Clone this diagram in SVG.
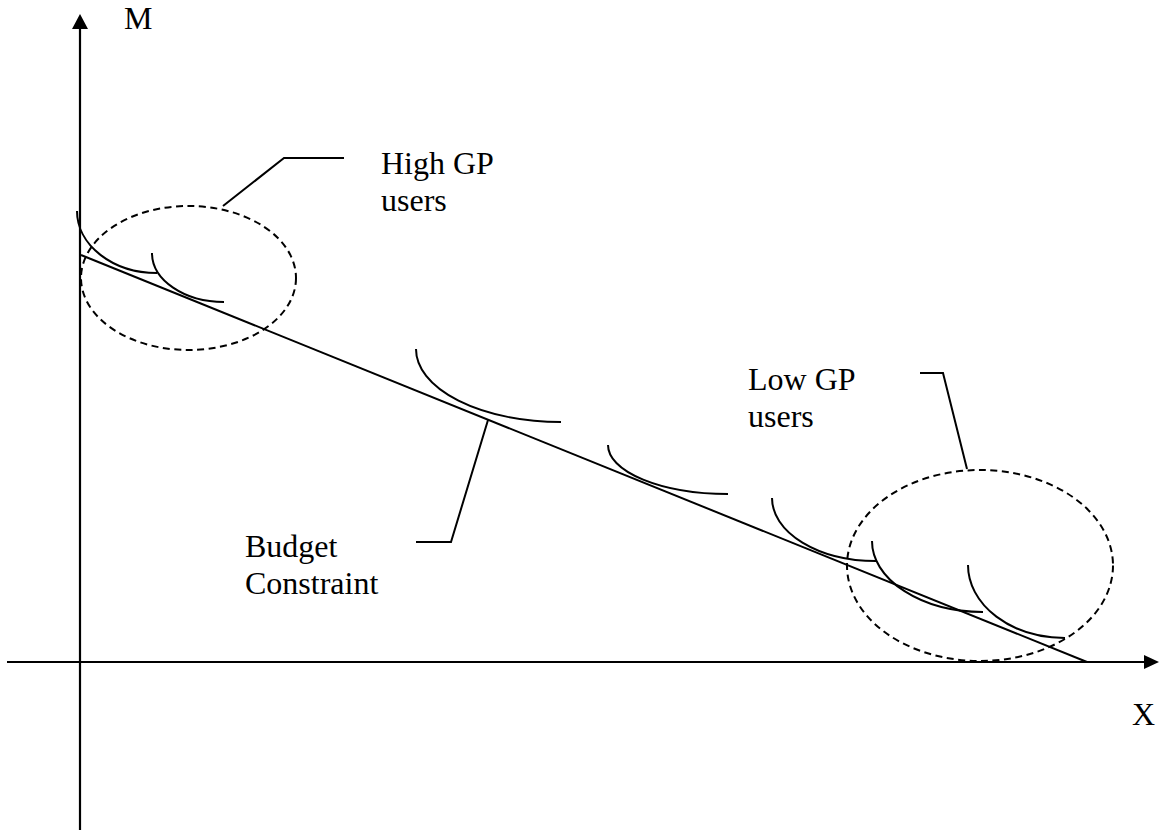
<svg xmlns="http://www.w3.org/2000/svg" width="1159" height="830" viewBox="0 0 1159 830">
<style>
.ax{stroke:#000;stroke-width:2.2;fill:none}
.ln{stroke:#000;stroke-width:2;fill:none}
.ds{stroke:#000;stroke-width:2;fill:none;stroke-dasharray:7 4.5}
.tx{font-family:"Liberation Serif","Times New Roman",serif;font-size:32px;fill:#000}
</style>
<rect width="1159" height="830" fill="#fff"/>
<g id="axes">
<line class="ax" x1="80" y1="28" x2="80" y2="830"/>
<polygon points="80,14 72,29 88,29" fill="#000"/>
<line class="ax" x1="7" y1="662" x2="1146" y2="662"/>
<polygon points="1159,662 1144,655 1144,669" fill="#000"/>
<text class="tx" x="124" y="29" font-family="Liberation Serif, serif">M</text>
<text class="tx" x="1132" y="725" font-family="Liberation Serif, serif">X</text>
</g>
<g id="budget-line">
<line class="ln" x1="81" y1="255" x2="1087" y2="662"/>
</g>
<g id="indifference-curves">
<path class="ln" d="M77,211 A80,62 0 0 0 157,273"/>
<path class="ln" d="M152,253 A72,49 0 0 0 224,302"/>
<path class="ln" d="M416,349 A145,73 0 0 0 561,422"/>
<path class="ln" d="M608,445 A120,49 0 0 0 728,494"/>
<path class="ln" d="M772,498 A104,63 0 0 0 876,561"/>
<path class="ln" d="M872,541 A111,71 0 0 0 983,612"/>
<path class="ln" d="M968,565 A97,73 0 0 0 1065,638"/>
</g>
<g id="high-gp">
<ellipse class="ds" cx="188.5" cy="278" rx="107.5" ry="72"/>
<text class="tx" x="381" y="174" font-family="Liberation Serif, serif">High GP</text>
<text class="tx" x="381" y="211" font-family="Liberation Serif, serif">users</text>
</g>
<g id="low-gp">
<ellipse class="ds" cx="980" cy="565.5" rx="133" ry="95.5"/>
<text class="tx" x="748" y="390" font-family="Liberation Serif, serif">Low GP</text>
<text class="tx" x="748" y="427" font-family="Liberation Serif, serif">users</text>
</g>
<g id="budget-label">
<text class="tx" x="245" y="557" font-family="Liberation Serif, serif">Budget</text>
<text class="tx" x="245" y="594" font-family="Liberation Serif, serif">Constraint</text>
</g>
<g id="connectors">
<polyline class="ln" points="223,206 284,158 344,158"/>
<polyline class="ln" points="920,373 943,373 967,469"/>
<polyline class="ln" points="488,420 451,542 416,542"/>
</g>
</svg>
